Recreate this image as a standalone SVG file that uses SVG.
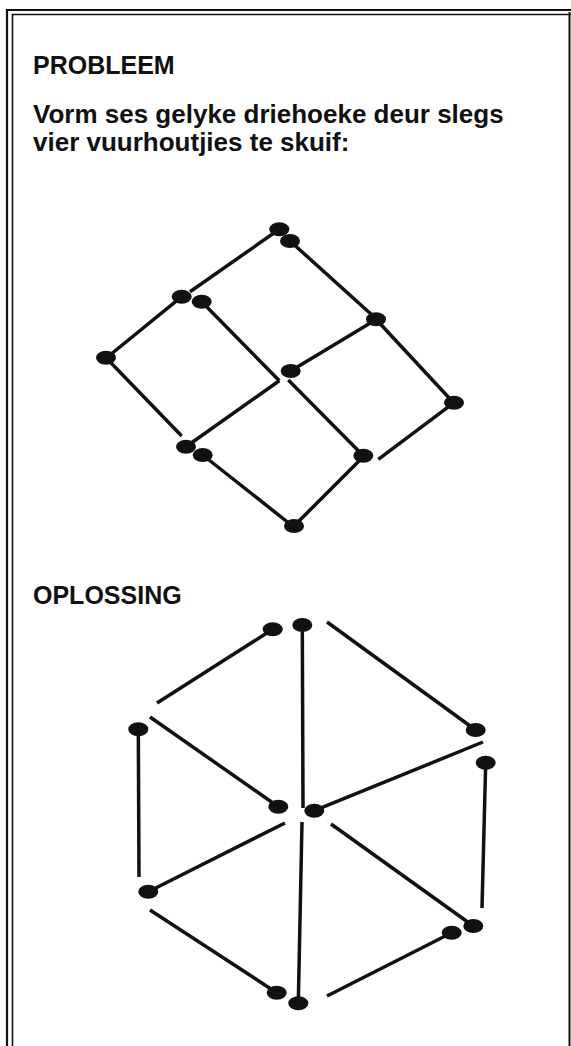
<svg xmlns="http://www.w3.org/2000/svg" width="571" height="1046" viewBox="0 0 571 1046">
  <style>
    .frame { fill: none; stroke: #111; }
    .stick { stroke: #111; stroke-width: 3.5; stroke-linecap: butt; fill: none; }
    .head { fill: #111; }
    .heading { font-family: "Liberation Sans", Arial, sans-serif; font-weight: bold; font-size: 25px; fill: #111; }
    .body { font-family: "Liberation Sans", Arial, sans-serif; font-weight: bold; font-size: 26px; fill: #111; }
  </style>
  <defs>
    <ellipse id="match-head" cx="0" cy="0" rx="10" ry="7"/>
  </defs>
  <rect width="571" height="1046" fill="#fff"/>

  <!-- page frame: double rule on the left and top, single rule on the right -->
  <g id="frame">
    <path class="frame" stroke-width="2.2" d="M7 1046 V10 H571"/>
    <path class="frame" stroke-width="1.6" d="M12.5 1046 V14.5 H571"/>
    <path class="frame" stroke-width="2" d="M569.5 12 V1046"/>
  </g>

  <g id="texts">
    <text class="heading" x="33" y="74">PROBLEEM</text>
    <text class="body" x="33" y="123">Vorm ses gelyke driehoeke deur slegs</text>
    <text class="body" x="33" y="151">vier vuurhoutjies te skuif:</text>
    <text class="heading" x="33" y="604">OPLOSSING</text>
  </g>

  <!-- problem: twelve matches laid out as a grid of four rhombi -->
  <g id="problem">
    <g id="p1"><line class="stick" x1="279.3" y1="229.3" x2="190" y2="291.7"/><use href="#match-head" class="head" x="279.3" y="229.3"/></g>
    <g id="p2"><line class="stick" x1="290" y1="241" x2="372" y2="315"/><use href="#match-head" class="head" x="290" y="241"/></g>
    <g id="p3"><line class="stick" x1="181.7" y1="296.7" x2="110" y2="355"/><use href="#match-head" class="head" x="181.7" y="296.7"/></g>
    <g id="p4"><line class="stick" x1="201.7" y1="301.7" x2="279.3" y2="380.7"/><use href="#match-head" class="head" x="201.7" y="301.7"/></g>
    <g id="p5"><line class="stick" x1="376" y1="319.3" x2="451" y2="400"/><use href="#match-head" class="head" x="376" y="319.3"/></g>
    <g id="p6"><line class="stick" x1="290.7" y1="371" x2="372" y2="322"/><use href="#match-head" class="head" x="290.7" y="371"/></g>
    <g id="p7"><line class="stick" x1="106" y1="357.7" x2="181.7" y2="436"/><use href="#match-head" class="head" x="106" y="357.7"/></g>
    <g id="p8"><line class="stick" x1="186" y1="446.7" x2="279.3" y2="380.7"/><use href="#match-head" class="head" x="186" y="446.7"/></g>
    <g id="p9"><line class="stick" x1="363.3" y1="455.7" x2="288.3" y2="380"/><use href="#match-head" class="head" x="363.3" y="455.7"/></g>
    <g id="p10"><line class="stick" x1="454" y1="402.7" x2="378.3" y2="459.3"/><use href="#match-head" class="head" x="454" y="402.7"/></g>
    <g id="p11"><line class="stick" x1="202.7" y1="455" x2="290" y2="524"/><use href="#match-head" class="head" x="202.7" y="455"/></g>
    <g id="p12"><line class="stick" x1="294" y1="526" x2="360" y2="460"/><use href="#match-head" class="head" x="294" y="526"/></g>
  </g>

  <!-- solution: the same twelve matches as a hexagon of six triangles -->
  <g id="solution">
    <g id="s1"><line class="stick" x1="272.7" y1="629.3" x2="157" y2="703"/><use href="#match-head" class="head" x="272.7" y="629.3"/></g>
    <g id="s2"><line class="stick" x1="302.3" y1="625" x2="303" y2="808"/><use href="#match-head" class="head" x="302.3" y="625"/></g>
    <g id="s3"><line class="stick" x1="475.7" y1="730" x2="327" y2="622"/><use href="#match-head" class="head" x="475.7" y="730"/></g>
    <g id="s4"><line class="stick" x1="278.3" y1="806.7" x2="150" y2="717"/><use href="#match-head" class="head" x="278.3" y="806.7"/></g>
    <g id="s5"><line class="stick" x1="138.3" y1="729.3" x2="139" y2="877"/><use href="#match-head" class="head" x="138.3" y="729.3"/></g>
    <g id="s6"><line class="stick" x1="314.3" y1="810.7" x2="483" y2="742"/><use href="#match-head" class="head" x="314.3" y="810.7"/></g>
    <g id="s7"><line class="stick" x1="485.7" y1="762.7" x2="482" y2="908"/><use href="#match-head" class="head" x="485.7" y="762.7"/></g>
    <g id="s8"><line class="stick" x1="148.3" y1="891.7" x2="285" y2="823"/><use href="#match-head" class="head" x="148.3" y="891.7"/></g>
    <g id="s9"><line class="stick" x1="298.3" y1="1003.3" x2="302" y2="822"/><use href="#match-head" class="head" x="298.3" y="1003.3"/></g>
    <g id="s10"><line class="stick" x1="473.3" y1="926" x2="331" y2="824"/><use href="#match-head" class="head" x="473.3" y="926"/></g>
    <g id="s11"><line class="stick" x1="276.7" y1="992.7" x2="150" y2="910"/><use href="#match-head" class="head" x="276.7" y="992.7"/></g>
    <g id="s12"><line class="stick" x1="451.7" y1="932.7" x2="327" y2="996"/><use href="#match-head" class="head" x="451.7" y="932.7"/></g>
  </g>
</svg>
